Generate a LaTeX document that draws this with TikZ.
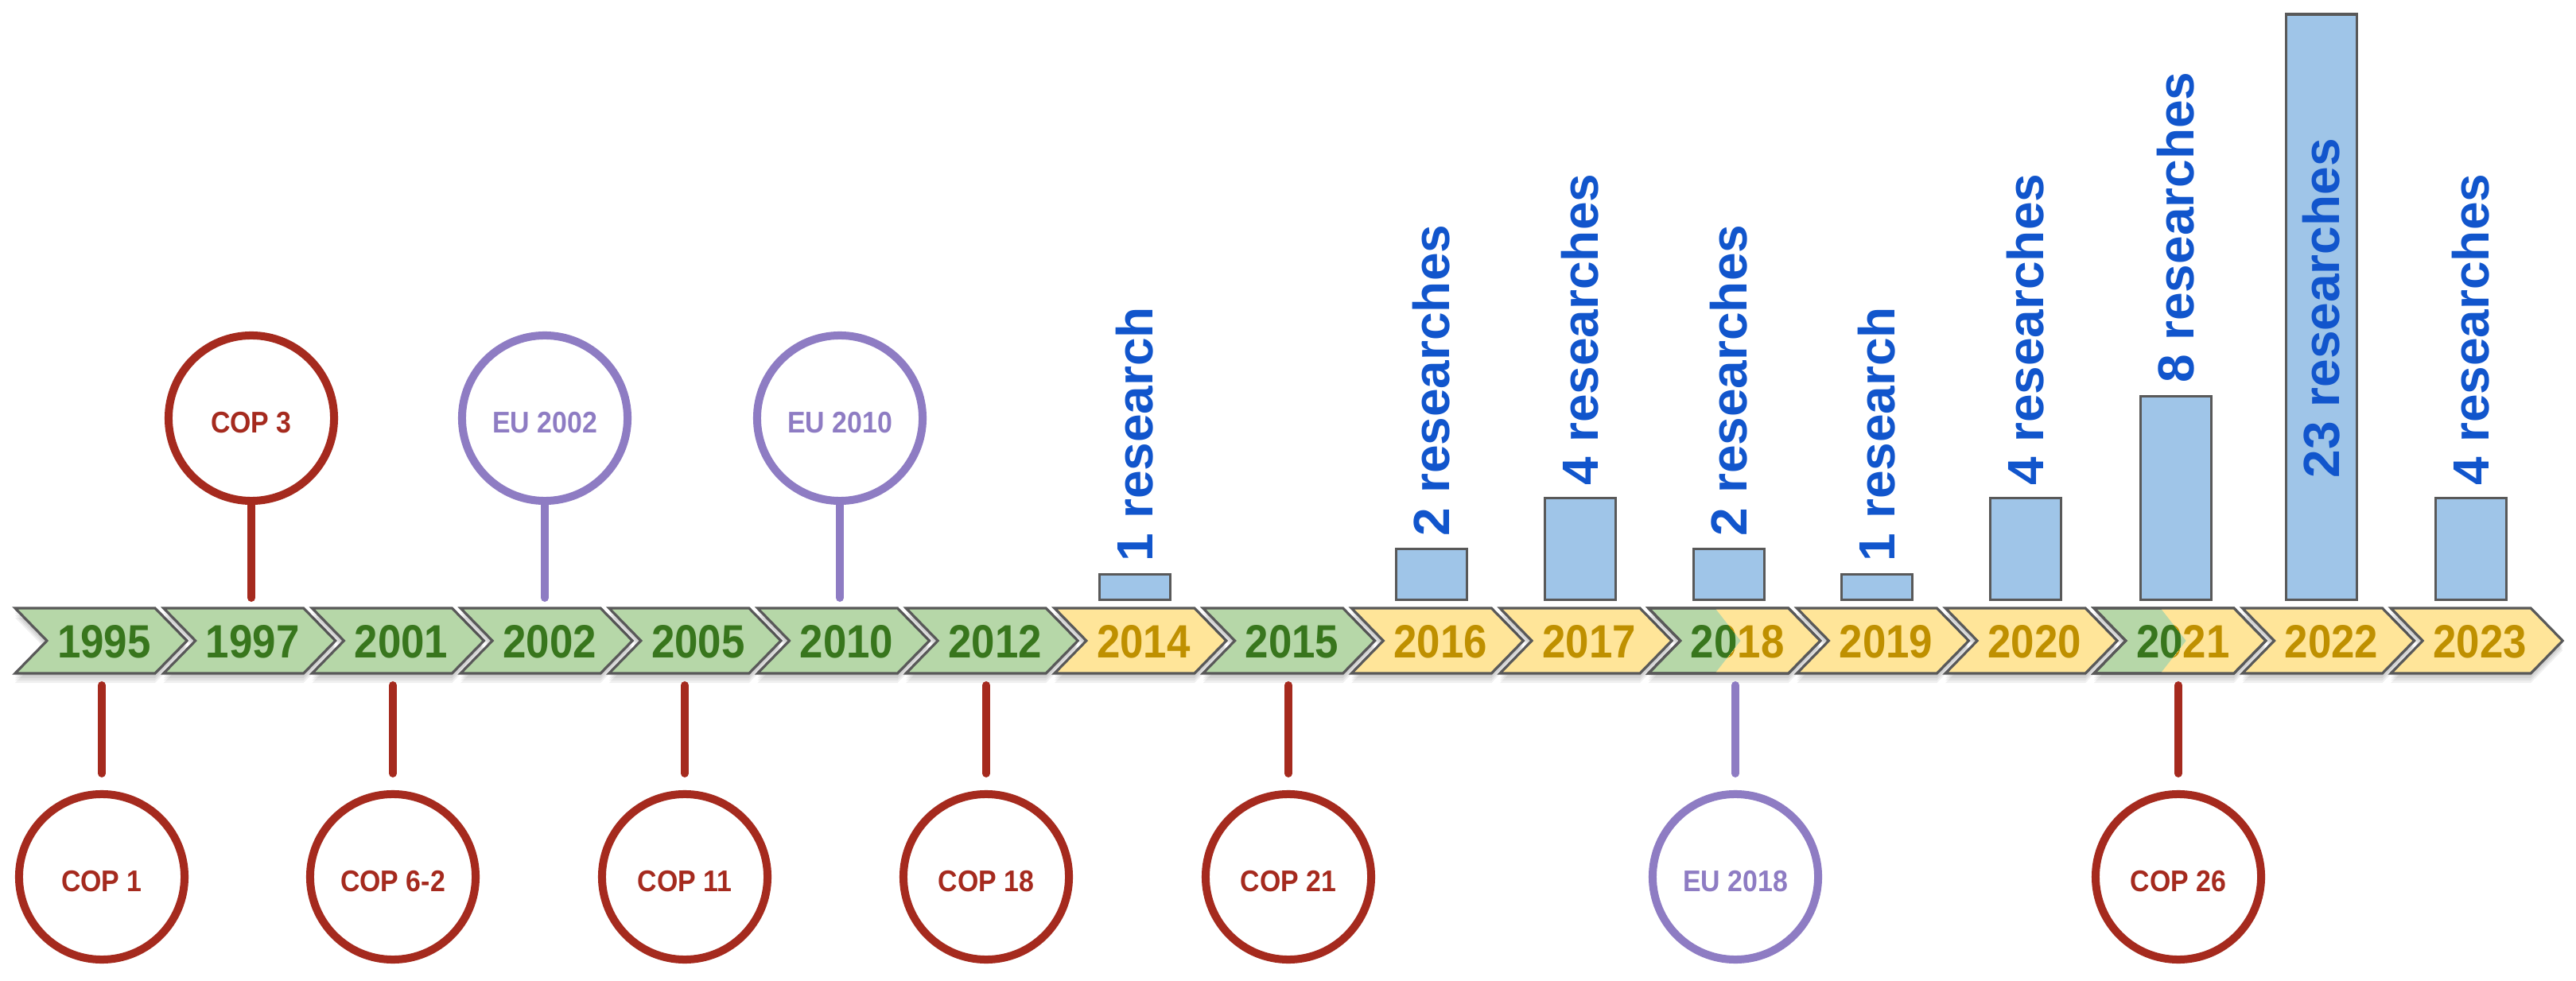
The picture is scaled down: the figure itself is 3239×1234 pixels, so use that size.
\documentclass[tikz,border=0pt]{standalone}
\usepackage{fontspec}
\setmainfont{Liberation Sans}
\newfontfamily\condfont[FakeStretch=0.9]{Liberation Sans}
\definecolor{gfill}{HTML}{B6D7A8}
\definecolor{gtext}{HTML}{38761D}
\definecolor{yfill}{HTML}{FFE599}
\definecolor{ytext}{HTML}{BF9000}
\definecolor{outl}{HTML}{595959}
\definecolor{cred}{HTML}{A52A1E}
\definecolor{cpurple}{HTML}{8E7CC3}
\definecolor{barfill}{HTML}{9FC5E8}
\definecolor{bartext}{HTML}{1155CC}
\begin{document}
\begin{tikzpicture}[x=0.01cm,y=-0.01cm,
  chevline/.style={draw=outl, line width=0.9pt, line join=miter},
  yearlab/.style={font=\condfont\bfseries\fontsize{16.7}{18}\selectfont, inner sep=0},
  ring/.style={circle, draw=#1, line width=0.1cm, minimum size=2.08cm, inner sep=0, fill=white},
  ringlab/.style={text=#1, font=\condfont\bfseries\fontsize{10.7}{12}\selectfont, inner sep=0},
  stem/.style={draw=#1, line width=0.1cm, line cap=round},
  bar/.style={draw=outl, fill=barfill, line width=0.9pt, minimum width=0.89cm, inner sep=0, anchor=south},
  barlab/.style={text=bartext, font=\bfseries\fontsize{18.2}{20}\selectfont, rotate=90, anchor=west, inner sep=0}]
\useasboundingbox (0,0) rectangle (3239,1234);
\fill[white] (0,0) rectangle (3239,1234);

% chevrons
\foreach \i/\yr/\fc/\tc in {0/1995/gfill/gtext, 1/1997/gfill/gtext, 2/2001/gfill/gtext, 3/2002/gfill/gtext,
  4/2005/gfill/gtext, 5/2010/gfill/gtext, 6/2012/gfill/gtext, 7/2014/yfill/ytext, 8/2015/gfill/gtext,
  9/2016/yfill/ytext, 10/2017/yfill/ytext, 11/2018/gfill/gtext, 12/2019/yfill/ytext, 13/2020/yfill/ytext,
  14/2021/gfill/gtext, 15/2022/yfill/ytext, 16/2023/yfill/ytext}{
  \pgfmathsetmacro\L{19+186.7*\i}
  \begin{scope}[shift={(\L,0)}]
    \foreach \k in {3,6,9,12}{
      \fill[black,opacity=0.06] (0,765+\k) -- (176,765+\k) -- (216,806+\k) -- (176,847+\k) -- (0,847+\k) -- (40,806+\k) -- cycle;
    }
    \fill[\fc] (0,765) -- (176,765) -- (216,806) -- (176,847) -- (0,847) -- (40,806) -- cycle;
    \node[yearlab, text=\tc] (y\yr) at (112,807) {\yr};
    \draw[chevline] (0,765) -- (176,765) -- (216,806) -- (176,847) -- (0,847) -- (40,806) -- cycle;
  \end{scope}
}

% half-yellow overlays on 2018 and 2021
\foreach \i/\yr in {11/2018, 14/2021}{
  \pgfmathsetmacro\L{19+186.7*\i}
  \begin{scope}[shift={(\L,0)}]
    \begin{scope}
      \clip (0,765) -- (176,765) -- (216,806) -- (176,847) -- (0,847) -- (40,806) -- cycle;
      \clip (80,760) -- (116,806) -- (80,852) -- (240,852) -- (240,760) -- cycle;
      \fill[yfill] (0,760) rectangle (240,852);
      \node[yearlab, text=ytext] (y\yr b) at (112,807) {\yr};
    \end{scope}
    \draw[chevline] (0,765) -- (176,765) -- (216,806) -- (176,847) -- (0,847) -- (40,806) -- cycle;
  \end{scope}
}

% circles above
\foreach \n/\x/\c/\t in {cop3/316/cred/COP 3, eu02/685/cpurple/EU 2002, eu10/1056/cpurple/EU 2010}{
  \node[ring=\c] (\n) at (\x,526) {};
  \node[ringlab=\c] (\n t) at (\x,532) {\t};
  \coordinate (\n e) at (\x,752);
  \draw[stem=\c] (\n.south) -- (\n e);
}

% circles below
\foreach \n/\x/\c/\t in {cop1/128/cred/COP 1, cop6/494/cred/COP 6-2, cop11/861/cred/COP 11,
  cop18/1240/cred/COP 18, cop21/1620/cred/COP 21, eu18/2182/cpurple/EU 2018, cop26/2739/cred/COP 26}{
  \node[ring=\c] (\n) at (\x,1103) {};
  \node[ringlab=\c] (\n t) at (\x,1109) {\t};
  \coordinate (\n s) at (\x,862);
  \draw[stem=\c] (\n s) -- ([yshift=0.21cm]\n.north);
}

% bars
\foreach \n/\x/\h/\t in {2014/1427/1/1 research, 2016/1800/2/2 researches, 2017/1987/4/4 researches,
  2018/2174/2/2 researches, 2019/2360/1/1 research, 2020/2547/4/4 researches,
  2021/2736/8/8 researches, 2023/3107/4/4 researches}{
  \node[bar, minimum height=\h*0.32cm] (b\n) at (\x,756) {};
  \node[barlab] (l\n) at ([yshift=0.14cm]b\n.north) {\t};
}
\node[bar, minimum height=7.36cm] (b2022) at (2919,756) {};
\node[barlab] (l2022) at ([yshift=1.54cm]b2022.south) {23 researches};
\end{tikzpicture}
\end{document}
